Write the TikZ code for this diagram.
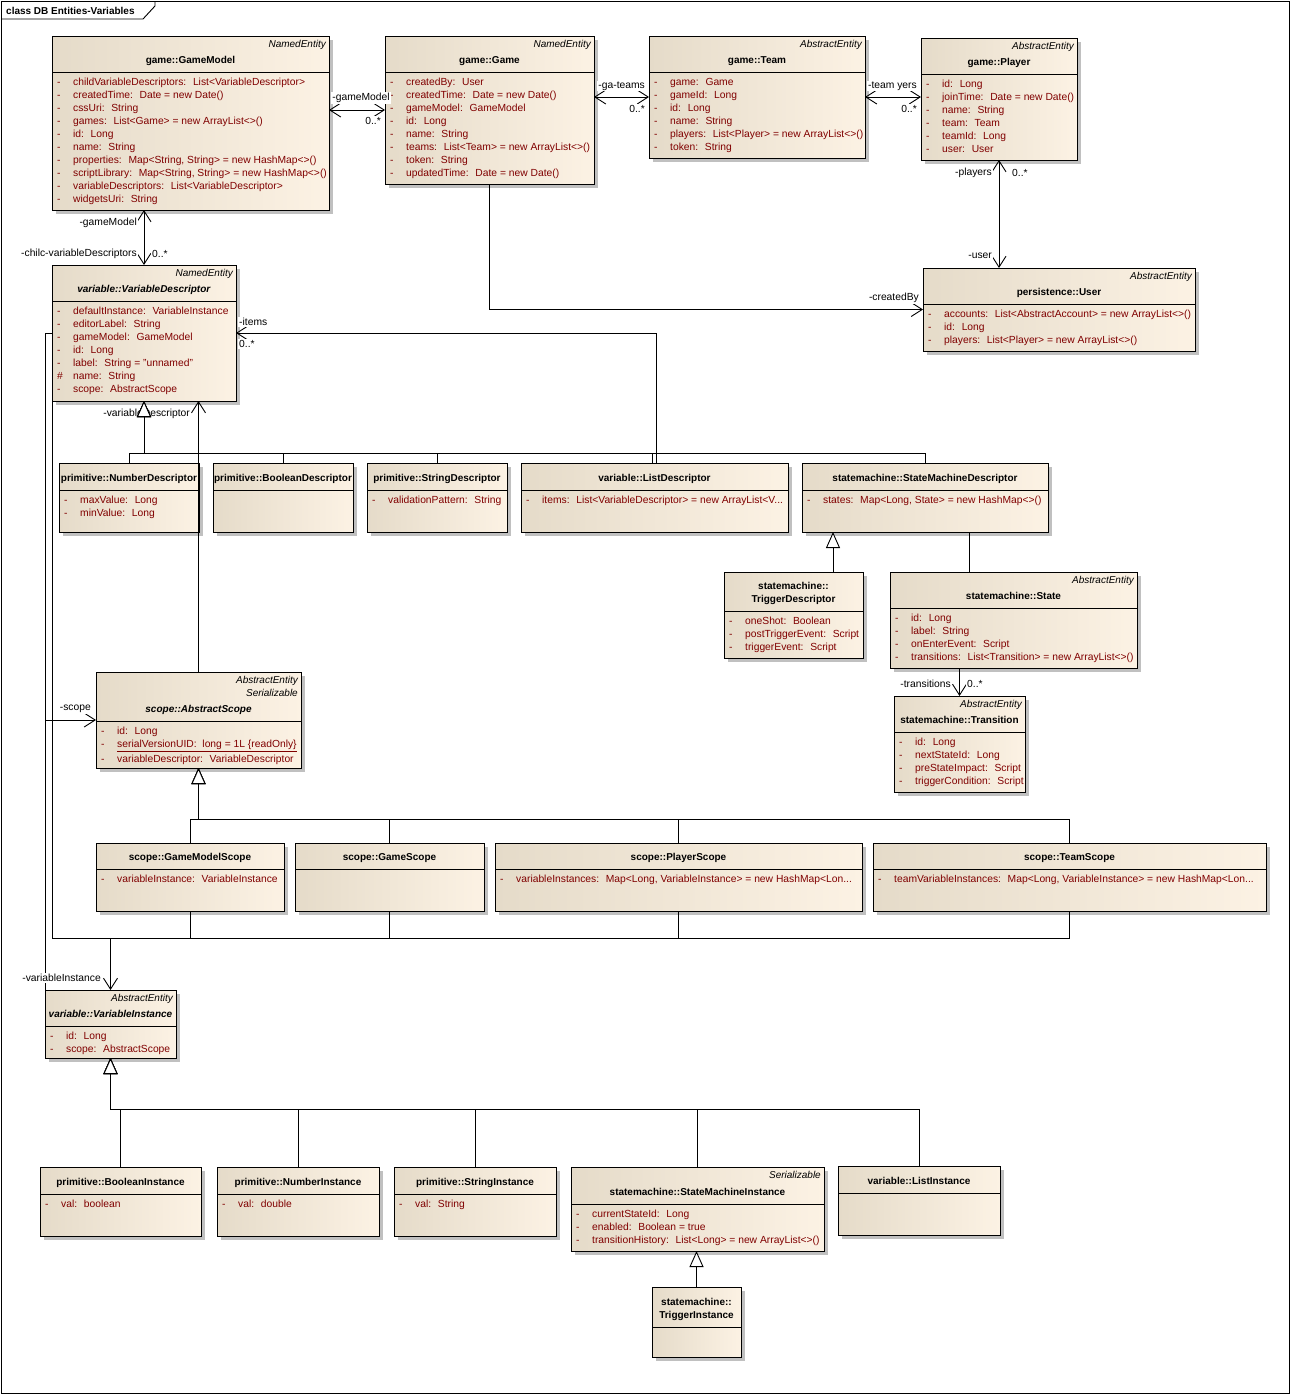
\documentclass[tikz,border=0pt]{standalone}
\usepackage{fontspec}
\setmainfont{Liberation Sans}
\usetikzlibrary{arrows.meta,positioning}

\definecolor{classleft}{RGB}{229,219,201}
\definecolor{classright}{RGB}{252,242,228}
\definecolor{attrred}{RGB}{128,0,0}
\definecolor{shadowgray}{RGB}{192,192,192}

\newcommand{\umlfont}{\fontsize{10}{13}\selectfont}
\newcommand{\attrfont}{\fontsize{10.3}{13}\selectfont}
\newcommand{\attr}[1]{\makebox[16pt][l]{-}#1\strut}
\newcommand{\prot}[1]{\makebox[16pt][l]{\#}#1\strut}
% class box: name, x, y, width, height, header height, stereotype, title, attributes
\newcommand{\umlclass}[9]{%
  \fill[shadowgray] (#2+4,#3+4) rectangle (#2+#4+4,#3+#5+4);
  \node[classbox, minimum width=#4pt, minimum height=#5pt] (#1) at (#2,#3) {};
  \draw[classline] (#1.north west) ++(0,#6) -- ++(#4,0);
  \node[stereo] (#1-st) at ([shift={(-3,2.1)}]#1.north east) {\strut#7};
  \path (#1.north) ++(0,#6-4.5) node[classtitle] (#1-tt) {#8\strut};
  \path (#1.north west) ++(5,#6+4.5) node[attrs] (#1-at) {#9};
}

\begin{document}
\begin{tikzpicture}[
    x=1pt, y=-1pt,
    classline/.style={line width=0.9pt},
    classbox/.style={draw, line width=0.9pt, left color=classleft, right color=classright, anchor=north west, inner sep=0pt, outer sep=0pt},
    stereo/.style={font=\umlfont\itshape, anchor=north east, inner sep=0pt, align=right},
    classtitle/.style={font=\umlfont\bfseries, anchor=south, inner sep=0pt, align=center},
    attrs/.style={font=\attrfont, text=attrred, anchor=north west, inner sep=0pt, align=left},
    assoc/.style={line width=0.9pt},
    navarrow/.style={assoc, -{Straight Barb[length=11pt,width=14pt]}},
    navboth/.style={assoc, {Straight Barb[length=11pt,width=14pt]}-{Straight Barb[length=11pt,width=14pt]}},
    gen/.style={assoc, -{Triangle[fill=white, length=16pt, width=14pt]}},
    rolelabel/.style={font=\attrfont, inner sep=1pt, fill=white}
]
\useasboundingbox (0,0) rectangle (1291,1395);

% frame
\draw[classline] (1,1) rectangle (1289,1393);
\draw[classline] (1,19) -- (143,19) -- (155,6) -- (155,1);
\node[font=\umlfont\bfseries, anchor=west, inner sep=0pt] (frametitle) at (6,10.5) {class DB Entities-Variables};

% game classes
\umlclass{gamemodel}{52}{36}{277}{174}{36}{NamedEntity}{game::GameModel}{%
  \attr{childVariableDescriptors:~ List<VariableDescriptor>}\\
  \attr{createdTime:~ Date = new Date()}\\
  \attr{cssUri:~ String}\\
  \attr{games:~ List<Game> = new ArrayList<>()}\\
  \attr{id:~ Long}\\
  \attr{name:~ String}\\
  \attr{properties:~ Map<String, String> = new HashMap<>()}\\
  \attr{scriptLibrary:~ Map<String, String> = new HashMap<>()}\\
  \attr{variableDescriptors:~ List<VariableDescriptor>}\\
  \attr{widgetsUri:~ String}}
\umlclass{game}{385}{36}{209}{148}{36}{NamedEntity}{game::Game}{%
  \attr{createdBy:~ User}\\
  \attr{createdTime:~ Date = new Date()}\\
  \attr{gameModel:~ GameModel}\\
  \attr{id:~ Long}\\
  \attr{name:~ String}\\
  \attr{teams:~ List<Team> = new ArrayList<>()}\\
  \attr{token:~ String}\\
  \attr{updatedTime:~ Date = new Date()}}
\umlclass{team}{649}{36}{216}{122}{36}{AbstractEntity}{game::Team}{%
  \attr{game:~ Game}\\
  \attr{gameId:~ Long}\\
  \attr{id:~ Long}\\
  \attr{name:~ String}\\
  \attr{players:~ List<Player> = new ArrayList<>()}\\
  \attr{token:~ String}}
\umlclass{player}{921}{38}{156}{122}{36}{AbstractEntity}{game::Player}{%
  \attr{id:~ Long}\\
  \attr{joinTime:~ Date = new Date()}\\
  \attr{name:~ String}\\
  \attr{team:~ Team}\\
  \attr{teamId:~ Long}\\
  \attr{user:~ User}}
\umlclass{user}{923}{268}{272}{83}{36}{AbstractEntity}{persistence::User}{%
  \attr{accounts:~ List<AbstractAccount> = new ArrayList<>()}\\
  \attr{id:~ Long}\\
  \attr{players:~ List<Player> = new ArrayList<>()}}

% descriptors
\umlclass{vardesc}{52}{265}{184}{136}{36}{NamedEntity}{\textit{variable::VariableDescriptor}}{%
  \attr{defaultInstance:~ VariableInstance}\\
  \attr{editorLabel:~ String}\\
  \attr{gameModel:~ GameModel}\\
  \attr{id:~ Long}\\
  \attr{label:~ String = "unnamed"}\\
  \prot{name:~ String}\\
  \attr{scope:~ AbstractScope}}
\umlclass{numdesc}{59}{463}{140}{69}{27}{}{primitive::NumberDescriptor}{%
  \attr{maxValue:~ Long}\\
  \attr{minValue:~ Long}}
\umlclass{booldesc}{213}{463}{140}{69}{27}{}{primitive::BooleanDescriptor}{}
\umlclass{strdesc}{367}{463}{140}{69}{27}{}{primitive::StringDescriptor}{%
  \attr{validationPattern:~ String}}
\umlclass{listdesc}{521}{463}{267}{69}{27}{}{variable::ListDescriptor}{%
  \attr{items:~ List<VariableDescriptor> = new ArrayList<V...}}
\umlclass{smdesc}{802}{463}{246}{69}{27}{}{statemachine::StateMachineDescriptor}{%
  \attr{states:~ Map<Long, State> = new HashMap<>()}}
\umlclass{trigdesc}{724}{572}{139}{86}{39}{}{statemachine::\\TriggerDescriptor}{%
  \attr{oneShot:~ Boolean}\\
  \attr{postTriggerEvent:~ Script}\\
  \attr{triggerEvent:~ Script}}
\umlclass{state}{890}{572}{247}{96}{36}{AbstractEntity}{statemachine::State}{%
  \attr{id:~ Long}\\
  \attr{label:~ String}\\
  \attr{onEnterEvent:~ Script}\\
  \attr{transitions:~ List<Transition> = new ArrayList<>()}}
\umlclass{transition}{894}{696}{131}{96}{36}{AbstractEntity}{statemachine::Transition}{%
  \attr{id:~ Long}\\
  \attr{nextStateId:~ Long}\\
  \attr{preStateImpact:~ Script}\\
  \attr{triggerCondition:~ Script}}

% scopes
\umlclass{absscope}{96}{672}{205}{96}{49}{AbstractEntity\\Serializable}{\textit{scope::AbstractScope}}{%
  \attr{id:~ Long}\\
  \attr{\underline{serialVersionUID:~ long = 1L \{readOnly\}}}\\
  \attr{variableDescriptor:~ VariableDescriptor}}
\umlclass{gmscope}{96}{843}{188}{68}{26}{}{scope::GameModelScope}{%
  \attr{variableInstance:~ VariableInstance}}
\umlclass{gscope}{295}{843}{189}{68}{26}{}{scope::GameScope}{}
\umlclass{pscope}{495}{843}{367}{68}{26}{}{scope::PlayerScope}{%
  \attr{variableInstances:~ Map<Long, VariableInstance> = new HashMap<Lon...}}
\umlclass{tscope}{873}{843}{393}{68}{26}{}{scope::TeamScope}{%
  \attr{teamVariableInstances:~ Map<Long, VariableInstance> = new HashMap<Lon...}}

% instances
\umlclass{varinst}{45}{990}{131}{68}{36}{AbstractEntity}{\textit{variable::VariableInstance}}{%
  \attr{id:~ Long}\\
  \attr{scope:~ AbstractScope}}
\umlclass{boolinst}{40}{1167}{161}{69}{27}{}{primitive::BooleanInstance}{%
  \attr{val:~ boolean}}
\umlclass{numinst}{217}{1167}{162}{69}{27}{}{primitive::NumberInstance}{%
  \attr{val:~ double}}
\umlclass{strinst}{394}{1167}{162}{69}{27}{}{primitive::StringInstance}{%
  \attr{val:~ String}}
\umlclass{sminst}{571}{1167}{253}{84}{37}{Serializable}{statemachine::StateMachineInstance}{%
  \attr{currentStateId:~ Long}\\
  \attr{enabled:~ Boolean = true}\\
  \attr{transitionHistory:~ List<Long> = new ArrayList<>()}}
\umlclass{listinst}{838}{1166}{162}{69}{27}{}{variable::ListInstance}{}
\umlclass{triginst}{652}{1287}{89}{70}{40}{}{statemachine::\\TriggerInstance}{}

% associations
\draw[navboth] (gamemodel.east |- game.west) -- (game.west);
\draw[navboth] (game.east |- team.west) -- (team.west);
\draw[navboth] (team.east) -- (team.east -| player.west);
\draw[navboth] (player.south) -- (player.south |- user.north);
\draw[navarrow] (game.south) |- (user.west);
\draw[navboth] (vardesc.north) -- (vardesc.north |- gamemodel.south);
\coordinate (itemstop) at ([xshift=1.5pt]listdesc.north);
\draw[navarrow] (itemstop) |- (vardesc.east);
\draw[navarrow] (vardesc.west) -- ++(-7,0) |- (absscope.west);
\draw[assoc] (varinst.north west) -- (varinst.north west |- absscope.west);
\draw[navarrow] (absscope.north) -- (absscope.north |- vardesc.south);
\coordinate (instbus) at (110.5,938);
\foreach \c in {gmscope,gscope,pscope,tscope}
  \draw[assoc] (\c.south) |- (instbus);
\draw[navarrow] (vardesc.south west) |- (instbus) -- (varinst.north);
\coordinate (statetop) at ([xshift=-44pt]state.north);
\draw[assoc] (statetop) -- (statetop |- smdesc.south);
\draw[navarrow] (transition.north |- state.south) -- (transition.north);

% role labels
\node[rolelabel] (lgm1) at (361,98) {-gameModel};
\node[rolelabel, anchor=east] (lgm2) at (382,121) {0..*};
\node[rolelabel, anchor=east] (lteams) at (646,86) {-ga-teams};
\node[rolelabel, anchor=east] (lteams2) at (646,109) {0..*};
\node[rolelabel, anchor=east] (lplayers) at (918,86) {-team yers};
\node[rolelabel, anchor=east] (lpl2) at (918,109) {0..*};
\node[rolelabel, anchor=east] (lpl3) at (993,173) {-players};
\node[rolelabel, anchor=west] (lpl4) at (1011,173) {0..*};
\node[rolelabel, anchor=east] (luser) at (993,256) {-user};
\node[rolelabel, anchor=east] (lcreated) at (920,298) {-createdBy};
\node[rolelabel, anchor=east] (lgm3) at (138,223) {-gameModel};
\node[rolelabel, anchor=east] (lvds) at (138,254) {-chilc-variableDescriptors};
\node[rolelabel, anchor=west] (lvds2) at (151,254) {0..*};
\node[rolelabel, anchor=west] (litems) at (238,322) {-items};
\node[rolelabel, anchor=west] (litems2) at (238,344) {0..*};
\node[rolelabel, anchor=east] (lvd) at (191,414) {-variableDescriptor};
\node[rolelabel, anchor=east] (lscope) at (92,709) {-scope};
\node[rolelabel, anchor=east] (lvi) at (102,978) {-variableInstance};
\node[rolelabel, anchor=east] (ltr) at (952,684) {-transitions};
\node[rolelabel, anchor=west] (ltr2) at (966,684) {0..*};

% generalizations
\coordinate (descbus) at (144,453);
\foreach \c in {numdesc,booldesc,strdesc,smdesc}
  \draw[gen] (\c.north) |- (descbus) -- (vardesc.south);
\coordinate (listtop) at ([xshift=-2pt]listdesc.north);
\draw[gen] (listtop) |- (descbus) -- (vardesc.south);
\coordinate (trigtop) at ([xshift=39.5pt]trigdesc.north);
\draw[gen] (trigtop) -- (trigtop |- smdesc.south);
\coordinate (scopebus) at (198.5,819);
\foreach \c in {gmscope,gscope,pscope,tscope}
  \draw[gen] (\c.north) |- (scopebus) -- (absscope.south);
\coordinate (instgen) at (110.5,1109);
\foreach \c in {boolinst,numinst,strinst,sminst,listinst}
  \draw[gen] (\c.north) |- (instgen) -- (varinst.south);
\draw[gen] (triginst.north) -- (triginst.north |- sminst.south);

\end{tikzpicture}
\end{document}
